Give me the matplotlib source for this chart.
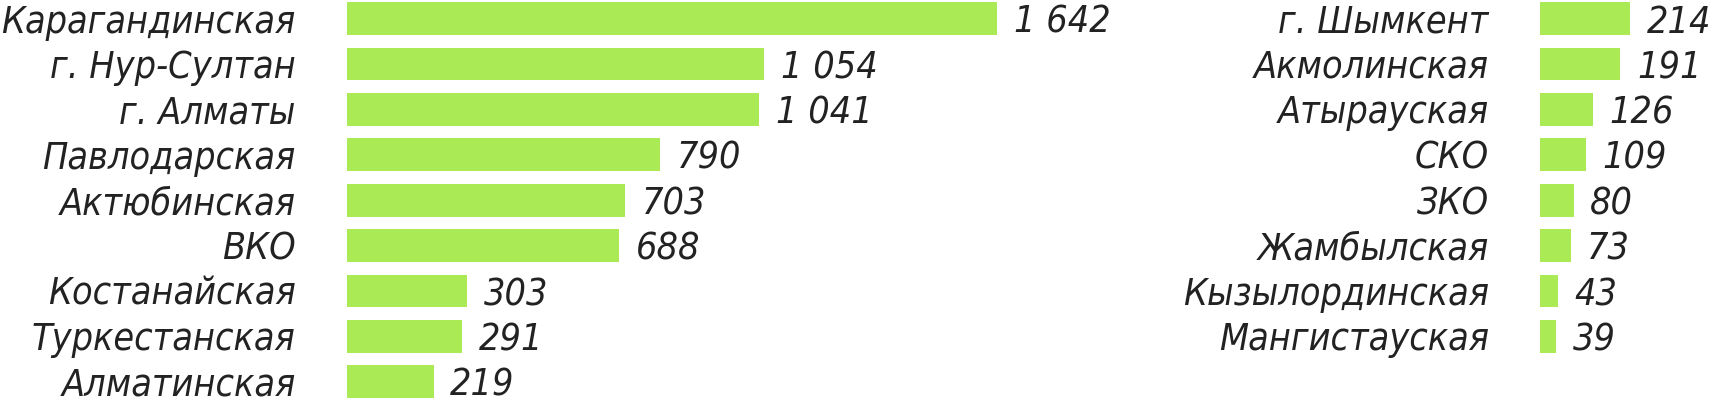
import matplotlib
matplotlib.use("Agg")
import matplotlib.pyplot as plt

left_regions = ["Карагандинская", "г. Нур-Султан", "г. Алматы", "Павлодарская",
                "Актюбинская", "ВКО", "Костанайская", "Туркестанская", "Алматинская"]
left_values = [1642, 1054, 1041, 790, 703, 688, 303, 291, 219]

right_regions = ["г. Шымкент", "Акмолинская", "Атырауская", "СКО", "ЗКО",
                 "Жамбылская", "Кызылординская", "Мангистауская"]
right_values = [214, 191, 126, 109, 80, 73, 43, 39]

BAR_COLOR = "#AAEA55"
TEXT_COLOR = "#222222"

FONT = ["DejaVu Sans"]
STRETCH = "condensed"
FS = 27

W, H = 1713, 401
fig = plt.figure(figsize=(W / 100, H / 100), dpi=100)

row = 45.4
top_center = 18.6
ax_h = 9 * row
ax_top = top_center - row / 2
ax_bottom_px = H - (ax_top + ax_h)
XMAX = 1642

def fmt(v):
    return f"{v:,}".replace(",", " ")

def panel(x0, px_per_unit, regions, values):
    width_px = XMAX * px_per_unit
    ax = fig.add_axes([x0 / W, ax_bottom_px / H, width_px / W, ax_h / H])
    y = list(range(len(regions)))
    ax.barh(y, values, height=0.72, color=BAR_COLOR, edgecolor="none")
    ax.set_xlim(0, XMAX)
    ax.set_ylim(8.5, -0.5)
    ax.set_yticks(y)
    ax.set_yticklabels(regions, fontsize=FS, fontstyle="italic", family=FONT,
                       fontstretch=STRETCH, color=TEXT_COLOR)
    ax.tick_params(axis="y", length=0, pad=37)
    ax.set_xticks([])
    for s in ax.spines.values():
        s.set_visible(False)
    ax.patch.set_visible(False)
    for yi, v in zip(y, values):
        ax.annotate(fmt(v), (v, yi), xytext=(12, -3), textcoords="offset points",
                    va="center", ha="left", fontsize=FS, fontstyle="italic",
                    family=FONT, fontstretch=STRETCH, color=TEXT_COLOR,
                    annotation_clip=False)
    return ax

panel(347, 650 / 1642, left_regions, left_values)
panel(1540, 0.42, right_regions, right_values)

fig.savefig("out.png", dpi=100, facecolor="white")
